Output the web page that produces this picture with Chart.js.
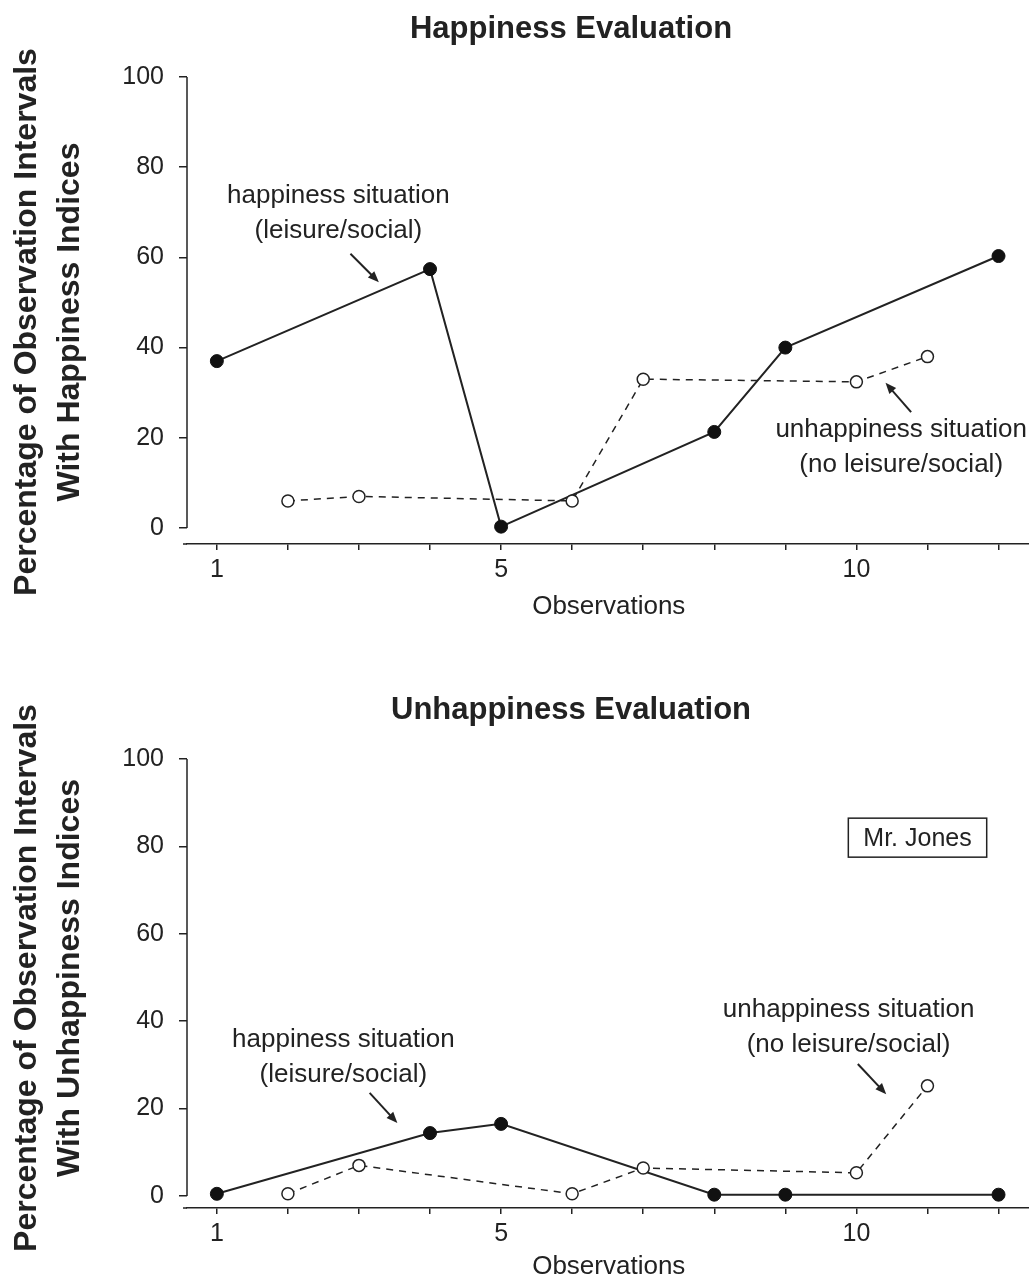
<!DOCTYPE html>
<html>
<head>
<meta charset="utf-8">
<script src="https://cdn.jsdelivr.net/npm/chart.js@4.4.1/dist/chart.umd.min.js"></script>
<style>
    html, body { margin: 0; padding: 0; background: #fff; overflow: hidden; }
    .panel { position: absolute; left: 0; width: 1038px; }
    #top-panel { top: 0; height: 640px; }
    #bottom-panel { top: 640px; height: 660px; }
</style>
</head>
<body>
<div class="panel" id="top-panel"><canvas id="happinessChart"></canvas></div>
<div class="panel" id="bottom-panel"><canvas id="unhappinessChart"></canvas></div>
<script>
// observation numbers for each condition
const happyObs = [1, 4, 5, 8, 9, 12];
const unhappyObs = [2, 3, 6, 7, 10, 11];

// top panel: happiness evaluation
const happinessEvalHappy = [37, 57.4, 0.3, 21.3, 40, 60.3];
const happinessEvalUnhappy = [6, 7, 6, 33, 32.4, 38];

// bottom panel: unhappiness evaluation
const unhappinessEvalHappy = [0.5, 14.4, 16.5, 0.3, 0.3, 0.3];
const unhappinessEvalUnhappy = [0.5, 7, 0.5, 6.4, 5.3, 25.2];

const xTicks = [1, 2, 3, 4, 5, 6, 7, 8, 9, 10, 11, 12];
const xTickLabels = [1, 5, 10];
const yTicks = [0, 20, 40, 60, 80, 100];

const INK = "#222";
const FONT = '"Liberation Sans", Arial, Helvetica, sans-serif';

Chart.defaults.font.family = FONT;
Chart.defaults.color = INK;

function toPoints(obs, values) {
    return obs.map((o, i) => ({ x: o, y: values[i] }));
}

function drawArrow(ctx, x1, y1, x2, y2) {
    const ang = Math.atan2(y2 - y1, x2 - x1);
    const head = 11;
    const half = 4.5;
    const cos = Math.cos(ang);
    const sin = Math.sin(ang);
    ctx.beginPath();
    ctx.moveTo(x1, y1);
    ctx.lineTo(x2 - head * 0.7 * cos, y2 - head * 0.7 * sin);
    ctx.stroke();
    ctx.beginPath();
    ctx.moveTo(x2, y2);
    ctx.lineTo(x2 - head * cos + half * sin, y2 - head * sin - half * cos);
    ctx.lineTo(x2 - head * cos - half * sin, y2 - head * sin + half * cos);
    ctx.closePath();
    ctx.fill();
}

// titles, the y axis line and title, text notes and arrows
const decorations = {
    id: "decorations",
    afterDraw(chart, args, opts) {
        const { ctx, chartArea } = chart;
        const xs = chart.scales.x;
        const ys = chart.scales.y;
        ctx.save();
        ctx.fillStyle = INK;
        ctx.strokeStyle = INK;

        ctx.font = `bold 31px ${FONT}`;
        ctx.textAlign = "center";
        ctx.textBaseline = "alphabetic";
        ctx.fillText(opts.title, 571, opts.titleBaseline);

        // two-line rotated y title
        ctx.save();
        ctx.font = `bold 32px ${FONT}`;
        ctx.textBaseline = "middle";
        ctx.translate(0, opts.yTitleCenter);
        ctx.rotate(-Math.PI / 2);
        opts.yTitle.forEach((line, i) => ctx.fillText(line, 0, 27 + i * 43));
        ctx.restore();

        ctx.lineWidth = 1.5;
        ctx.beginPath();
        ctx.moveTo(chartArea.left, ys.getPixelForValue(100));
        ctx.lineTo(chartArea.left, ys.getPixelForValue(0));
        ctx.stroke();
        ctx.beginPath();
        ctx.moveTo(chartArea.left - 4, chartArea.bottom);
        ctx.lineTo(chartArea.left, chartArea.bottom);
        ctx.stroke();

        ctx.font = `26px ${FONT}`;
        opts.notes.forEach((note) => {
            const px = xs.getPixelForValue(note.x);
            const py = ys.getPixelForValue(note.y);
            note.lines.forEach((line, i) => ctx.fillText(line, px, py + i * 35));
        });

        ctx.lineWidth = 2;
        opts.arrows.forEach((a) => {
            drawArrow(
                ctx,
                xs.getPixelForValue(a.from[0]), ys.getPixelForValue(a.from[1]),
                xs.getPixelForValue(a.to[0]), ys.getPixelForValue(a.to[1])
            );
        });

        if (opts.box) {
            ctx.font = `25px ${FONT}`;
            ctx.textBaseline = "middle";
            const bx = xs.getPixelForValue(opts.box.x);
            const by = ys.getPixelForValue(opts.box.y);
            const w = ctx.measureText(opts.box.text).width + 30;
            const h = 39;
            ctx.lineWidth = 1.5;
            ctx.strokeRect(bx - w / 2, by - h / 2, w, h);
            ctx.fillText(opts.box.text, bx, by + 1);
        }
        ctx.restore();
    },
};

function makeChart(canvasId, cfg) {
    return new Chart(document.getElementById(canvasId), {
        type: "line",
        data: {
            datasets: [
                {
                    label: "unhappiness situation",
                    data: toPoints(unhappyObs, cfg.unhappy),
                    borderColor: INK,
                    borderWidth: 1.5,
                    borderDash: [7, 6],
                    pointStyle: "circle",
                    pointRadius: 6,
                    pointBackgroundColor: "#fff",
                    pointBorderColor: INK,
                    pointBorderWidth: 1.5,
                    tension: 0,
                    clip: false,
                },
                {
                    label: "happiness situation",
                    data: toPoints(happyObs, cfg.happy),
                    borderColor: INK,
                    borderWidth: 2,
                    pointStyle: "circle",
                    pointRadius: 6.5,
                    pointBackgroundColor: "#111",
                    pointBorderColor: "#111",
                    pointBorderWidth: 1,
                    tension: 0,
                    clip: false,
                },
            ],
        },
        options: {
            responsive: true,
            maintainAspectRatio: false,
            animation: false,
            layout: { padding: { top: cfg.plotTop, left: 0, right: 0, bottom: 0 } },
            plugins: {
                legend: { display: false },
                tooltip: { enabled: false },
                title: { display: false },
                decorations: {
                    title: cfg.title,
                    titleBaseline: cfg.titleBaseline,
                    yTitle: cfg.yTitle,
                    yTitleCenter: cfg.yTitleCenter,
                    notes: cfg.notes,
                    arrows: cfg.arrows,
                    box: cfg.box,
                },
            },
            scales: {
                x: {
                    type: "linear",
                    min: 0.58,
                    max: 12.45,
                    afterBuildTicks: (s) => { s.ticks = xTicks.map((v) => ({ value: v })); },
                    afterFit: (s) => { s.height = cfg.xHeight; },
                    border: { display: true, color: INK, width: 1.5 },
                    grid: { drawOnChartArea: false, drawTicks: true, tickLength: 6, color: INK, lineWidth: 1.5 },
                    ticks: {
                        padding: 5,
                        autoSkip: false,
                        maxRotation: 0,
                        color: INK,
                        font: { size: 25, lineHeight: 1.2 },
                        callback: (v) => (xTickLabels.includes(v) ? String(v) : ""),
                    },
                    title: {
                        display: true,
                        text: "Observations",
                        color: INK,
                        font: { size: 26, lineHeight: 1.2 },
                        padding: { top: 0, bottom: 18 },
                    },
                },
                y: {
                    min: cfg.yMin,
                    max: 100,
                    afterBuildTicks: (s) => { s.ticks = yTicks.map((v) => ({ value: v })); },
                    afterFit: (s) => { s.width = 187; },
                    border: { display: false },
                    grid: { drawOnChartArea: false, drawTicks: true, tickLength: 8, color: INK, lineWidth: 1.5 },
                    ticks: { padding: 15, color: INK, font: { size: 25 } },
                },
            },
        },
        plugins: [decorations],
    });
}

makeChart("happinessChart", {
    happy: happinessEvalHappy,
    unhappy: happinessEvalUnhappy,
    title: "Happiness Evaluation",
    titleBaseline: 38,
    plotTop: 77,
    xHeight: 96,
    yMin: -3.55,
    yTitle: ["Percentage of Observation Intervals", "With Happiness Indices"],
    yTitleCenter: 322,
    notes: [
        { x: 2.71, y: 72.1, lines: ["happiness situation", "(leisure/social)"] },
        { x: 10.63, y: 20.2, lines: ["unhappiness situation", "(no leisure/social)"] },
    ],
    arrows: [
        { from: [2.88, 60.8], to: [3.28, 54.5] },
        { from: [10.77, 25.7], to: [10.41, 32.2] },
    ],
    box: null,
});

makeChart("unhappinessChart", {
    happy: unhappinessEvalHappy,
    unhappy: unhappinessEvalUnhappy,
    title: "Unhappiness Evaluation",
    titleBaseline: 79,
    plotTop: 119,
    xHeight: 92,
    yMin: -2.75,
    yTitle: ["Percentage of Observation Intervals", "With Unhappiness Indices"],
    yTitleCenter: 338,
    notes: [
        { x: 2.78, y: 34.1, lines: ["happiness situation", "(leisure/social)"] },
        { x: 9.89, y: 41.0, lines: ["unhappiness situation", "(no leisure/social)"] },
    ],
    arrows: [
        { from: [3.15, 23.6], to: [3.54, 16.7] },
        { from: [10.02, 30.2], to: [10.42, 23.3] },
    ],
    box: { x: 10.86, y: 82.0, text: "Mr. Jones" },
});
</script>
</body>
</html>
